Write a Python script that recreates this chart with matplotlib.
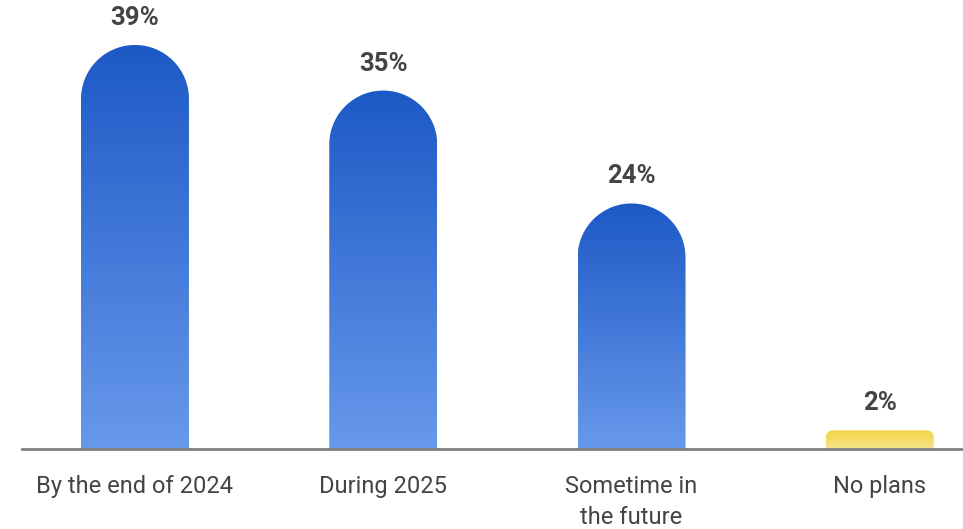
import numpy as np
import matplotlib
matplotlib.use("Agg")
import matplotlib.pyplot as plt
from matplotlib.path import Path
from matplotlib.patches import PathPatch
from matplotlib.colors import LinearSegmentedColormap

# ── data ────────────────────────────────────────────────────────────────────
categories = ["By the end of 2024", "During 2025", "Sometime in\nthe future", "No plans"]
values = [39, 34.6, 23.7, 1.8]          # bar heights
value_labels = ["39%", "35%", "24%", "2%"]
bar_kind = ["blue", "blue", "blue", "yellow"]

plt.rcParams["font.family"] = ["Roboto", "DejaVu Sans"]

W, H = 963, 529
fig = plt.figure(figsize=(W / 100, H / 100), dpi=100)
ax = fig.add_axes([22 / W, 80 / H, 1 - 22 / W, 449 / H])

px_per_pct = 10.36
ax.set_xlim(-0.455, 3.335)
ax.set_ylim(0, 449 / px_per_pct)

ux = (W - 22) / (3.335 + 0.455)   # px per x unit
uy = px_per_pct                   # px per y unit

cmaps = {
    "blue": LinearSegmentedColormap.from_list("b", ["#6799eb", "#1d59c6"]),
    "yellow": LinearSegmentedColormap.from_list("y", ["#f8e58d", "#f2d343"]),
}
corner_px = {"blue": 54, "yellow": 7}
bar_w = 108 / ux


def bar_path(cx, h, r_px):
    hw = bar_w / 2
    rx = min(r_px / ux, hw)
    ry = r_px / uy
    t = np.linspace(0, np.pi / 2, 30)
    pts = [(cx - hw, 0), (cx + hw, 0)]
    # right corner
    pts += list(zip(cx + hw - rx + rx * np.cos(t), h - ry + ry * np.sin(t)))
    # left corner
    pts += list(zip(cx - hw + rx - rx * np.sin(t), h - ry + ry * np.cos(t)))
    pts.append((cx - hw, 0))
    return Path(pts, closed=True)


grad = np.linspace(0, 1, 256).reshape(-1, 1)
for i, (v, lab, kind) in enumerate(zip(values, value_labels, bar_kind)):
    path = bar_path(i, v, corner_px[kind])
    patch = PathPatch(path, facecolor="none", edgecolor="none")
    ax.add_patch(patch)
    im = ax.imshow(grad, cmap=cmaps[kind], aspect="auto", origin="lower",
                   extent=[i - bar_w / 2, i + bar_w / 2, 0, v], zorder=2)
    im.set_clip_path(patch)
    ax.text(i, v + 27 / uy, lab, ha="center", va="center",
            fontsize=18.5, fontweight="bold", color="#444444")

ax.set_xlim(-0.455, 3.335)
ax.set_ylim(0, 449 / px_per_pct)

ax.set_xticks(range(len(categories)))
ax.set_xticklabels(categories, fontsize=17, color="#444444", linespacing=1.44)
ax.tick_params(axis="x", length=0, pad=19)
ax.set_yticks([])
for s in ["top", "left", "right"]:
    ax.spines[s].set_visible(False)
ax.spines["bottom"].set_color("#808080")
ax.spines["bottom"].set_linewidth(2)
ax.spines["bottom"].set_zorder(3)

plt.savefig("out.png", dpi=100)
